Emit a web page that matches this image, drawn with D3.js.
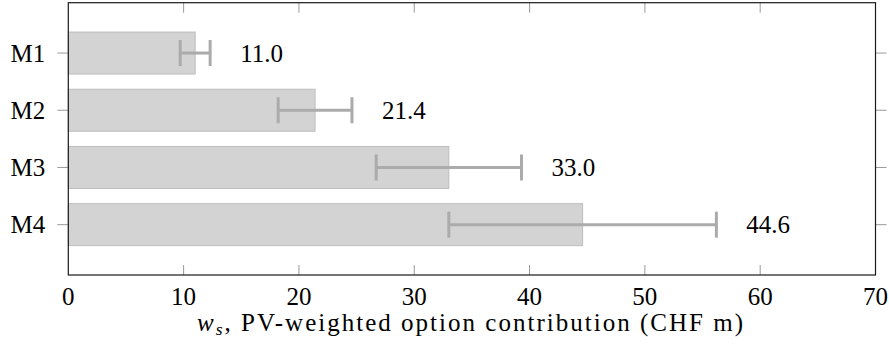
<!DOCTYPE html>
<html>
<head>
<meta charset="utf-8">
<script src="https://cdn.jsdelivr.net/npm/d3@7"></script>
<style>
  html, body { margin: 0; padding: 0; background: #fff; }
  svg { display: block; }
  text { font-family: "Liberation Serif", "DejaVu Serif", serif; fill: #000; }
</style>
</head>
<body>
<svg id="chart" width="889" height="354"></svg>
<script>
// ---- data ----
const categories = ["M1", "M2", "M3", "M4"];
const values = [11.0, 21.4, 33.0, 44.6];
const errors = [1.3, 3.2, 6.3, 11.6];
const valueLabels = ["11.0", "21.4", "33.0", "44.6"];
const xTicks = [0, 10, 20, 30, 40, 50, 60, 70];
const xTitle = "PV-weighted option contribution (CHF m)";

// ---- layout ----
const W = 889, H = 354;
const plot = { left: 68.3, right: 875.5, top: 2.7, bottom: 275 };
const svg = d3.select("#chart");

const x = d3.scaleLinear().domain([0, 70]).range([plot.left, plot.right]);
const y = d3.scalePoint().domain(categories).range([plot.top, plot.bottom]).padding(0.88);
const barH = y.step() * 0.734;

const tickColor = "#9a9a9a";
const fontSize = 25;

// bars
svg.append("g").selectAll("rect")
  .data(categories)
  .join("rect")
  .attr("x", x(0))
  .attr("y", d => y(d) - barH / 2)
  .attr("width", (d, i) => x(values[i]) - x(0))
  .attr("height", barH)
  .attr("fill", "#d3d3d3")
  .attr("stroke", "#bdbdbd")
  .attr("stroke-width", 1);

// error bars
const eb = svg.append("g").attr("stroke", "#ababab").attr("stroke-width", 3).attr("fill", "none");
categories.forEach((c, i) => {
  const lo = x(values[i] - errors[i]), hi = x(values[i] + errors[i]), cy = y(c);
  eb.append("line").attr("x1", lo).attr("x2", hi).attr("y1", cy).attr("y2", cy);
  eb.append("line").attr("x1", lo).attr("x2", lo).attr("y1", cy - 13).attr("y2", cy + 13);
  eb.append("line").attr("x1", hi).attr("x2", hi).attr("y1", cy - 13).attr("y2", cy + 13);
});

// value labels
svg.append("g").selectAll("text")
  .data(categories)
  .join("text")
  .attr("x", (d, i) => x(values[i] + errors[i]) + 30)
  .attr("y", d => y(d))
  .attr("dy", "0.34em")
  .attr("font-size", fontSize)
  .text((d, i) => valueLabels[i]);

// x ticks (inside, bottom and top)
const xt = svg.append("g").attr("stroke", tickColor).attr("stroke-width", 1);
xTicks.forEach(t => {
  if (t === 0 || t === 70) return;
  xt.append("line").attr("x1", x(t)).attr("x2", x(t)).attr("y1", plot.bottom).attr("y2", plot.bottom - 10);
  xt.append("line").attr("x1", x(t)).attr("x2", x(t)).attr("y1", plot.top).attr("y2", plot.top + 10);
});
// y ticks (outside, left and right)
categories.forEach(c => {
  xt.append("line").attr("x1", plot.left - 11).attr("x2", plot.left).attr("y1", y(c)).attr("y2", y(c));
  xt.append("line").attr("x1", plot.right).attr("x2", plot.right + 11).attr("y1", y(c)).attr("y2", y(c));
});

// frame
svg.append("rect")
  .attr("x", plot.left).attr("y", plot.top)
  .attr("width", plot.right - plot.left).attr("height", plot.bottom - plot.top)
  .attr("fill", "none").attr("stroke", "#1a1a1a").attr("stroke-width", 1.2);

// x tick labels
svg.append("g").selectAll("text")
  .data(xTicks)
  .join("text")
  .attr("x", d => x(d))
  .attr("y", 304.5)
  .attr("text-anchor", "middle")
  .attr("font-size", fontSize)
  .text(d => d);

// y tick labels
svg.append("g").selectAll("text")
  .data(categories)
  .join("text")
  .attr("x", plot.left - 23)
  .attr("y", d => y(d))
  .attr("dy", "0.34em")
  .attr("text-anchor", "end")
  .attr("font-size", fontSize)
  .text(d => d);

// x axis title
const title = svg.append("text")
  .attr("x", 470)
  .attr("y", 331)
  .attr("text-anchor", "middle")
  .attr("font-size", fontSize)
  .attr("textLength", 546)
  .attr("lengthAdjust", "spacing");
title.append("tspan").attr("font-style", "italic").text("w");
title.append("tspan").attr("font-style", "italic").attr("font-size", fontSize * 0.7).attr("dy", 4).text("s");
title.append("tspan").attr("dy", -4).text(", " + xTitle);
</script>
</body>
</html>
